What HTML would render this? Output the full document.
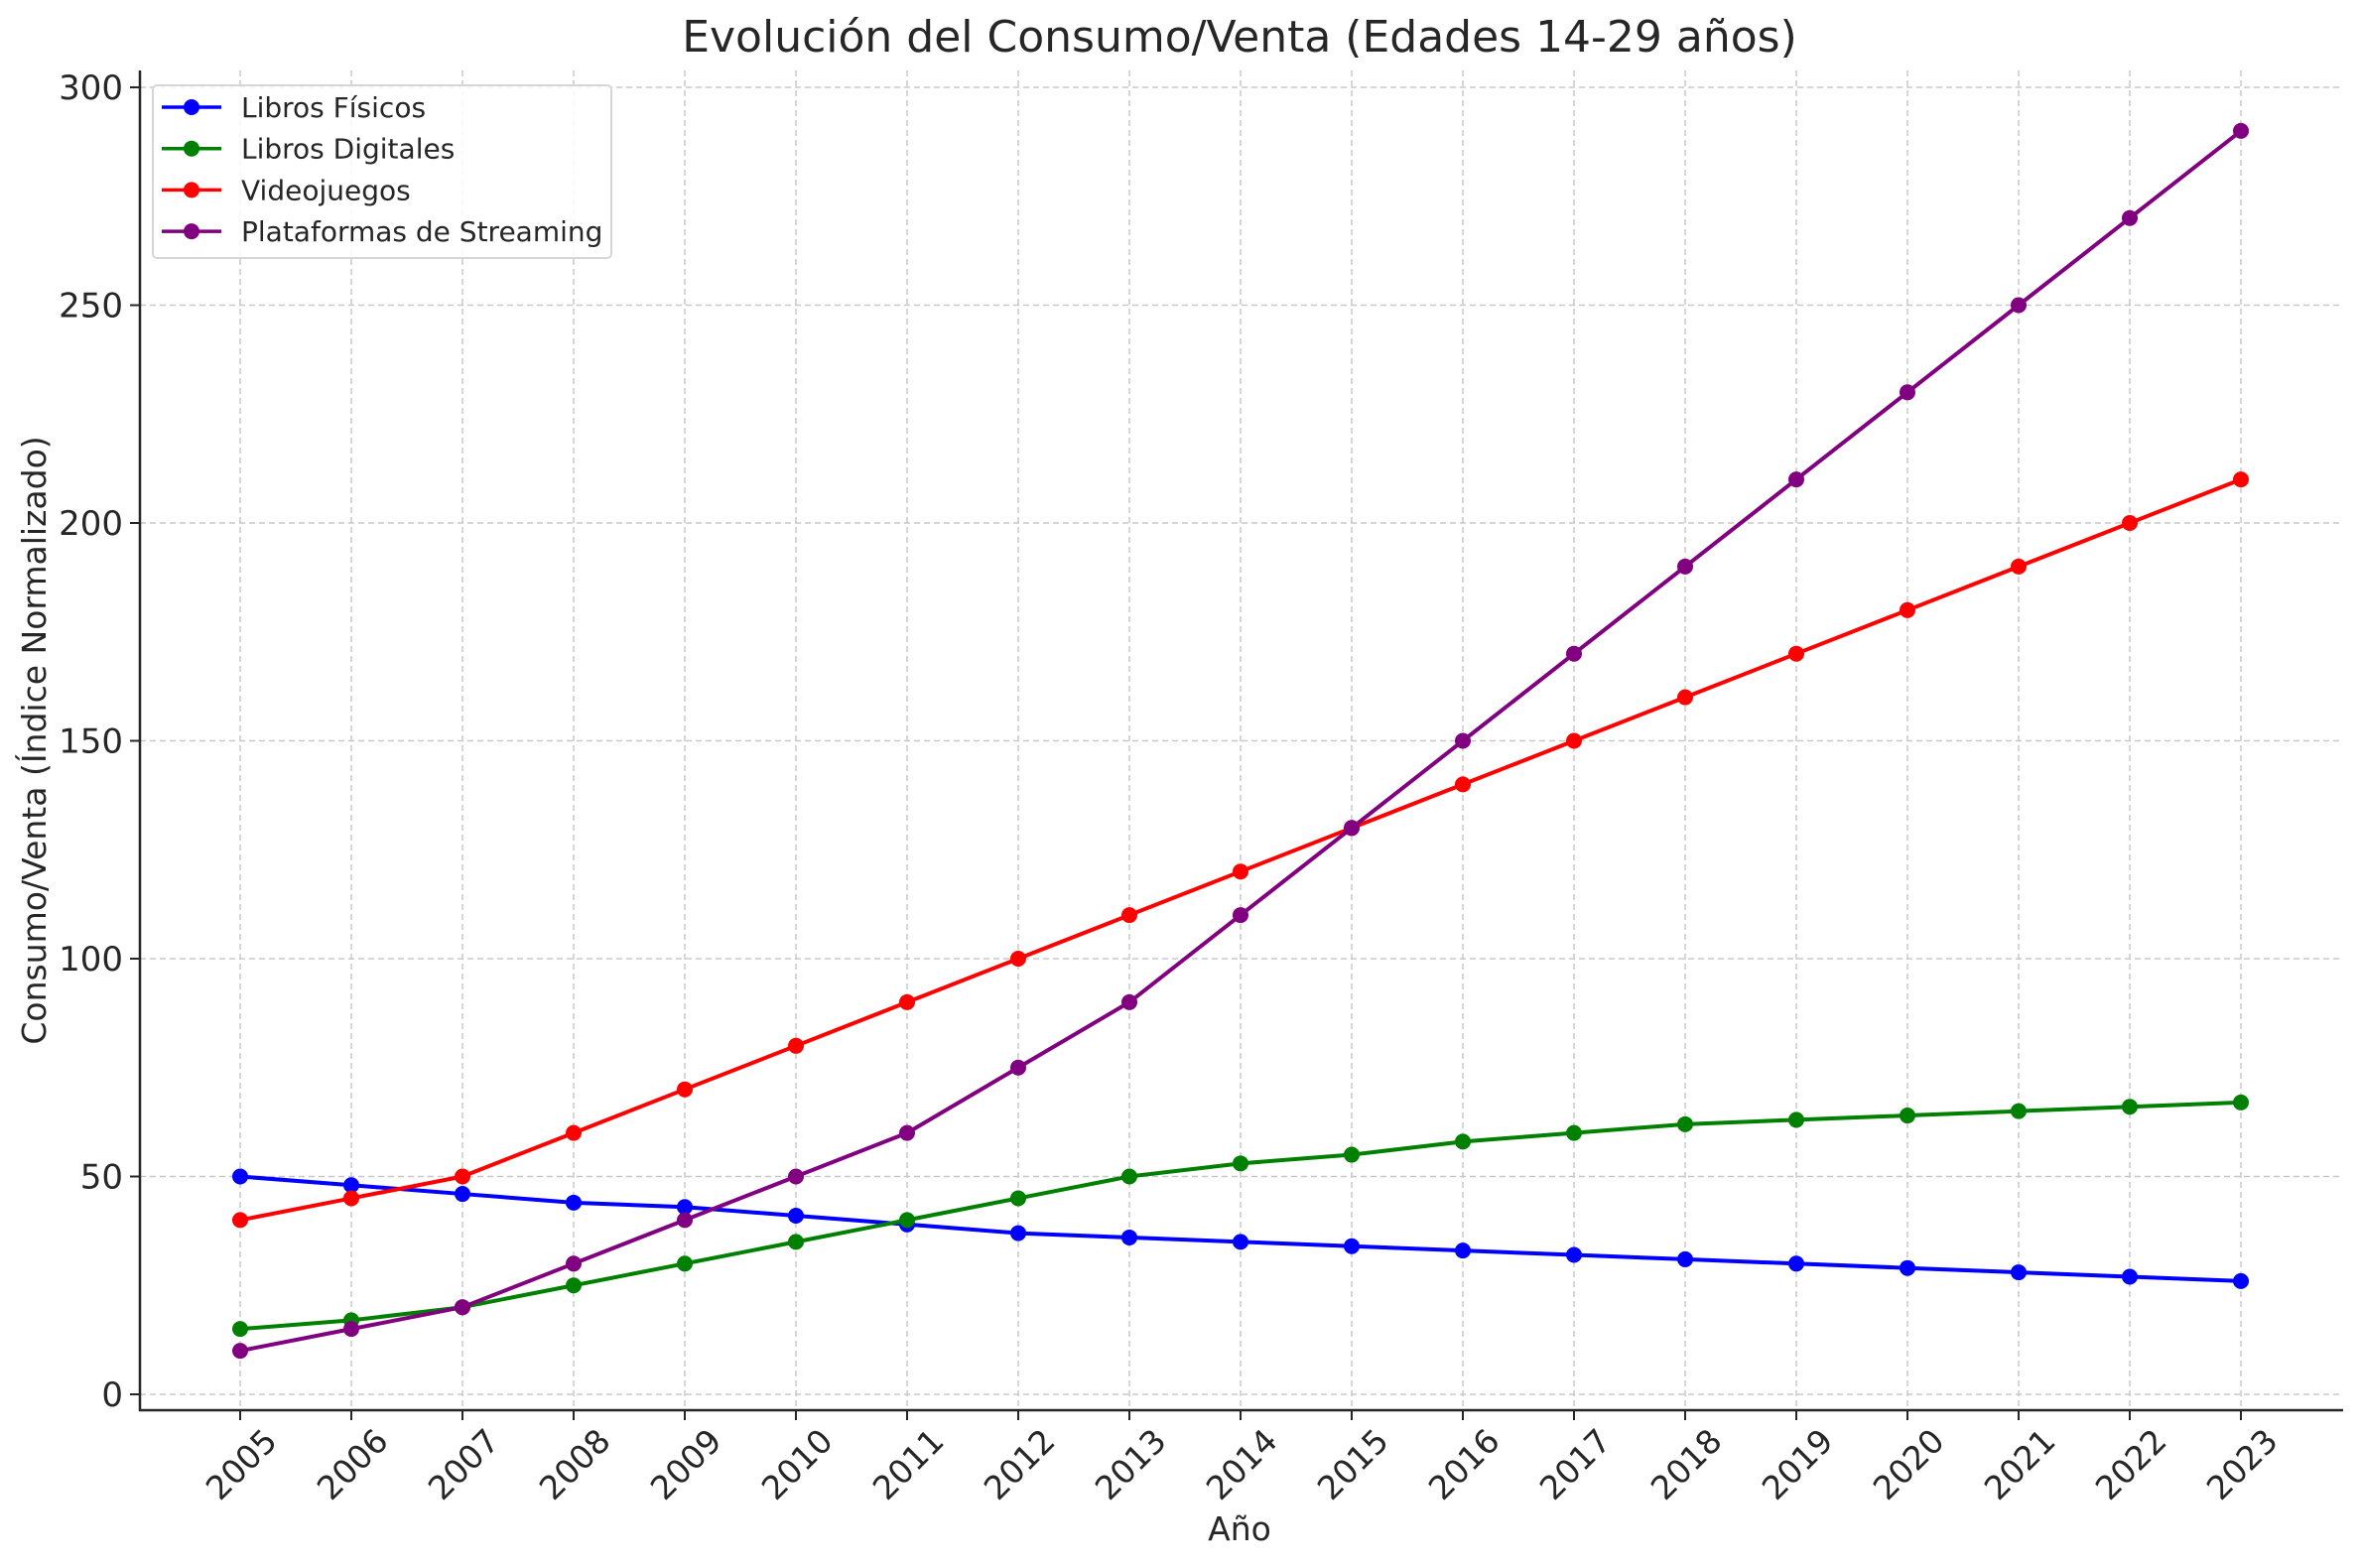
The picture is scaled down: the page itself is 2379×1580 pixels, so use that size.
<!DOCTYPE html>
<html><head><meta charset="utf-8"><style>html,body{margin:0;padding:0;background:#fff}svg{display:block}</style></head>
<body>
<svg id="chart" width="2379" height="1580" xmlns="http://www.w3.org/2000/svg" font-family="'DejaVu Sans','Liberation Sans',sans-serif" fill="#262626">
<g id="grid"></g>
<g id="axes"></g>
<g id="series"></g>
<text x="1249" y="52" font-size="44" text-anchor="middle">Evolución del Consumo/Venta (Edades 14-29 años)</text>
<text x="1249" y="1552" font-size="33" text-anchor="middle">Año</text>
<text transform="translate(46,746) rotate(-90)" font-size="33" text-anchor="middle">Consumo/Venta (Índice Normalizado)</text>
<g id="legend"></g>
</svg>
<script>
const years = [2005,2006,2007,2008,2009,2010,2011,2012,2013,2014,2015,2016,2017,2018,2019,2020,2021,2022,2023];
const librosFisicos = [50,48,46,44,43,41,39,37,36,35,34,33,32,31,30,29,28,27,26];
const librosDigitales = [15,17,20,25,30,35,40,45,50,53,55,58,60,62,63,64,65,66,67];
const videojuegos = [40,45,50,60,70,80,90,100,110,120,130,140,150,160,170,180,190,200,210];
const streaming = [10,15,20,30,40,50,60,75,90,110,130,150,170,190,210,230,250,270,290];
const yTicks = [0,50,100,150,200,250,300];
const seriesNames = ["Libros Físicos","Libros Digitales","Videojuegos","Plataformas de Streaming"];
const seriesColors = ["#0000ff","#008000","#ff0000","#800080"];
const seriesData = [librosFisicos, librosDigitales, videojuegos, streaming];

const NS="http://www.w3.org/2000/svg";
const x0=242, xStep=(2258-242)/18, yBase=1405, yScale=(1405-88)/300;
const X = i => x0 + i*xStep;
const Y = v => yBase - v*yScale;
function mk(tag, attrs, parent){const e=document.createElementNS(NS,tag);for(const k in attrs)e.setAttribute(k,attrs[k]);parent.appendChild(e);return e;}
const grid=document.getElementById('grid'), axes=document.getElementById('axes'), ser=document.getElementById('series'), leg=document.getElementById('legend');

years.forEach((yr,i)=>{
  const l=mk('line',{x1:X(i),x2:X(i),y1:71,y2:1421,stroke:'#c8c8c8','stroke-width':1.5,'stroke-dasharray':'6,4'},grid);
  
  
  const t=mk('line',{x1:X(i),x2:X(i),y1:1421,y2:1431,stroke:'#262626','stroke-width':2},axes);
  
  
  const lb=mk('text',{x:0,y:0,'font-size':33,'text-anchor':'end',transform:`translate(${X(i)+39},${1454}) rotate(-45)`},axes);
  lb.textContent=yr;
  
  
});
yTicks.forEach(v=>{
  const l=mk('line',{x1:141,x2:2361,y1:Y(v),y2:Y(v),stroke:'#c8c8c8','stroke-width':1.5,'stroke-dasharray':'6,4'},grid);
  
  
  const t=mk('line',{x1:131,x2:141,y1:Y(v),y2:Y(v),stroke:'#262626','stroke-width':2},axes);
  
  
  const lb=mk('text',{x:124,y:Y(v)+12,'font-size':34,'text-anchor':'end'},axes);
  lb.textContent=v;
  
  
});
const sp1=mk('line',{x1:141,x2:141,y1:71,y2:1422,stroke:'#262626','stroke-width':2.5},axes);


const sp2=mk('line',{x1:140,x2:2361,y1:1421,y2:1421,stroke:'#262626','stroke-width':2.5},axes);



seriesData.forEach((d,s)=>{
  const g=mk('g',{},ser);
  
  
  const p=mk('polyline',{points:d.map((v,i)=>X(i)+','+Y(v)).join(' '),fill:'none',stroke:seriesColors[s],'stroke-width':4,'stroke-linejoin':'round'},g);
  
  
  d.forEach((v,i)=>{
    const c=mk('circle',{cx:X(i),cy:Y(v),r:8,fill:seriesColors[s]},g);
    
    
  });
});

const box=mk('rect',{x:154,y:86,width:462,height:174,rx:4,fill:'#fff','fill-opacity':0.85,stroke:'#d6d6d6','stroke-width':2},leg);


seriesNames.forEach((n,s)=>{
  const cy=108+s*41.7;
  const g=mk('g',{},leg);
  
  
  mk('line',{x1:163,x2:223,y1:cy,y2:cy,stroke:seriesColors[s],'stroke-width':3.5},g);
  mk('circle',{cx:193,cy:cy,r:8,fill:seriesColors[s]},g);
  const t=mk('text',{x:243,y:cy+10,'font-size':28},g);
  t.textContent=n;
});
</script>
</body></html>
